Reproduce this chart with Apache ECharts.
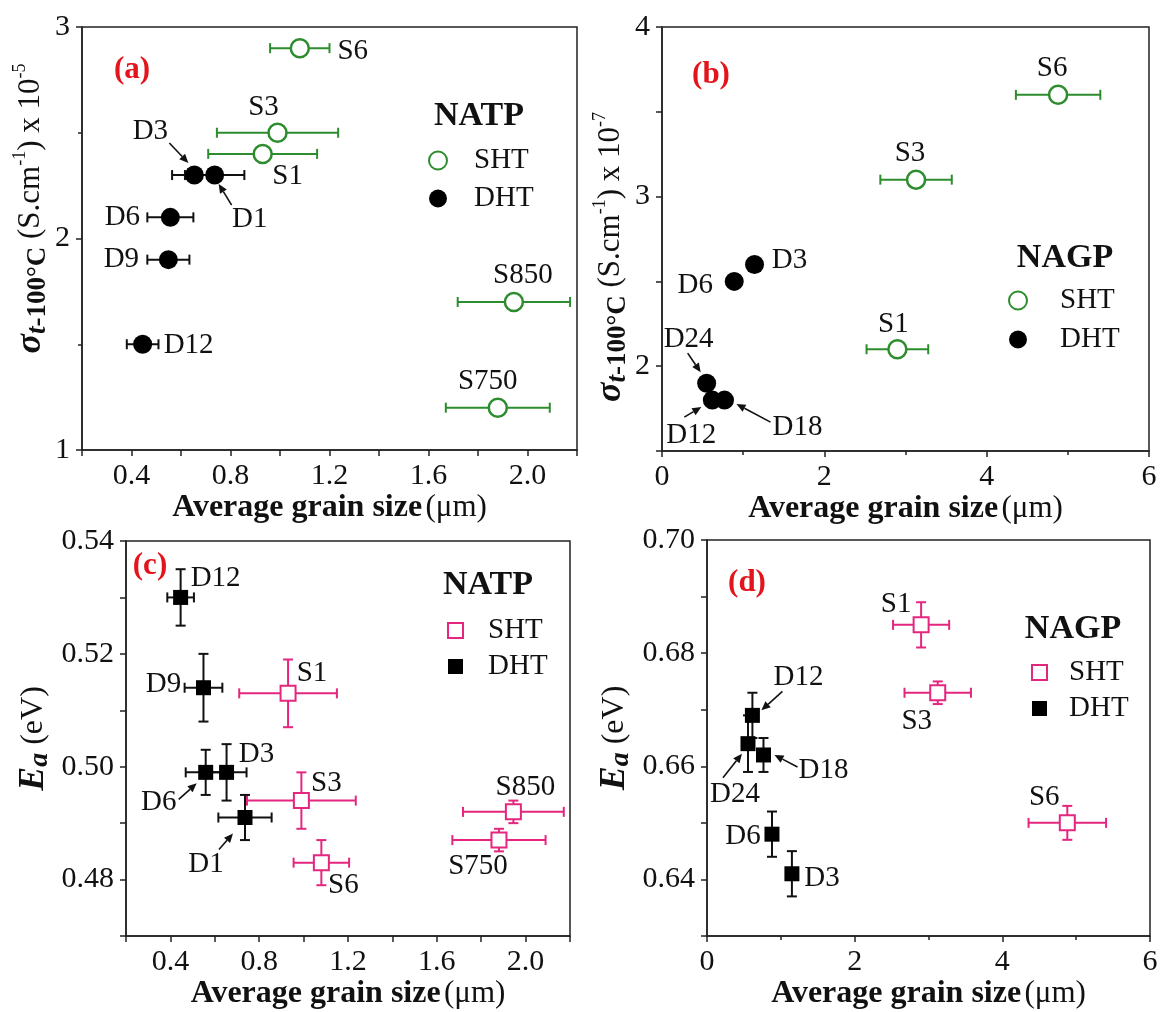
<!DOCTYPE html>
<html>
<head>
<meta charset="utf-8">
<script src="https://cdn.jsdelivr.net/npm/echarts@6/dist/echarts.min.js"></script>
<style>
  html, body { margin: 0; padding: 0; background: #fff; }
  #main { width: 1161px; height: 1012px; }
</style>
</head>
<body>
<div id="main"></div>
<script>
var serif = '"Liberation Serif", "Times New Roman", serif';
var green = '#2d8c2d', pink = '#e4267f', red = '#e3141b', ink = '#111111';

// (a) NATP conductivity at 100 C vs grain size
var aShtNames = ['S1', 'S3', 'S6', 'S750', 'S850'];
var aShtSize = [0.93, 0.99, 1.08, 1.88, 1.945];
var aShtSizeErr = [0.22, 0.245, 0.12, 0.21, 0.227];
var aShtSigma = [2.4, 2.5, 2.9, 1.2, 1.7];
var aDhtNames = ['D1', 'D3', 'D6', 'D9', 'D12'];
var aDhtSize = [0.736, 0.654, 0.557, 0.549, 0.445];
var aDhtSizeErr = [0.12, 0.09, 0.093, 0.085, 0.064];
var aDhtSigma = [2.3, 2.3, 2.1, 1.9, 1.5];

// (b) NAGP conductivity
var bShtNames = ['S1', 'S3', 'S6'];
var bShtSize = [2.9, 3.13, 4.88];
var bShtSizeErr = [0.38, 0.44, 0.52];
var bShtSigma = [2.1, 3.1, 3.6];
var bDhtNames = ['D3', 'D6', 'D12', 'D18', 'D24'];
var bDhtSize = [1.14, 0.89, 0.62, 0.77, 0.55];
var bDhtSigma = [2.6, 2.5, 1.8, 1.8, 1.9];

// (c) NATP activation energy
var cShtNames = ['S1', 'S3', 'S6', 'S750', 'S850'];
var cShtSize = [0.93, 0.99, 1.08, 1.88, 1.945];
var cShtSizeErr = [0.22, 0.245, 0.125, 0.21, 0.227];
var cShtEa = [0.513, 0.494, 0.483, 0.487, 0.492];
var cShtEaErr = [0.006, 0.005, 0.004, 0.002, 0.002];
var cDhtNames = ['D1', 'D3', 'D6', 'D9', 'D12'];
var cDhtSize = [0.736, 0.653, 0.559, 0.549, 0.446];
var cDhtSizeErr = [0.12, 0.09, 0.09, 0.085, 0.06];
var cDhtEa = [0.491, 0.499, 0.499, 0.514, 0.530];
var cDhtEaErr = [0.004, 0.005, 0.004, 0.006, 0.005];

// (d) NAGP activation energy
var dShtNames = ['S1', 'S3', 'S6'];
var dShtSize = [2.9, 3.125, 4.88];
var dShtSizeErr = [0.38, 0.45, 0.525];
var dShtEa = [0.685, 0.673, 0.650];
var dShtEaErr = [0.004, 0.002, 0.003];
var dDhtNames = ['D3', 'D6', 'D12', 'D18', 'D24'];
var dDhtSize = [1.15, 0.88, 0.615, 0.765, 0.555];
var dDhtEa = [0.641, 0.648, 0.669, 0.662, 0.664];
var dDhtEaErr = [0.004, 0.004, 0.004, 0.003, 0.005];

// where the point names sit, px offset from the marker centre
var aPlace = {S1: [25, 22], S3: [-14, -25], S6: [53, 3], S750: [-10, -26], S850: [9, -27],
              D1: [35, 44], D3: [-44, -44], D6: [-48, 0], D9: [-47, 0], D12: [46, 1]};
var aArrows = {D3: [-25, -32, -6, -12], D1: [17, 30, 4, 9]};
var bPlace = {S1: [-4, -25], S3: [-6, -26], S6: [-6, -26],
              D3: [35, -4], D6: [-39, 4], D12: [-21, 35], D18: [73, 27], D24: [-18, -44]};
var bArrows = {D24: [-19, -30, -6, -11], D12: [-28, 17, -11, 7], D18: [46, 22, 12, 4]};
var cPlace = {S1: [24, -20], S3: [25, -17], S6: [22, 23], S750: [-21, 26], S850: [12, -24],
              D1: [-39, 47], D3: [30, -18], D6: [-47, 30], D9: [-40, -3], D12: [35, -19]};
var cArrows = {D6: [-27, 27, -9, 11], D1: [-26, 32, -12, 16]};
var dPlace = {S1: [-25, -20], S3: [-21, 29], S6: [-23, -25],
              D3: [30, 5], D6: [-29, 2], D12: [46, -38], D18: [60, 15], D24: [-13, 51]};
var dArrows = {D12: [30, -24, 9, -5], D24: [-25, 34, -6, 10], D18: [34, 12, 11, 0]};

function rows(xs, ys, exs, eys) {
    return xs.map(function (x, i) {
        return [x, ys[i], exs ? exs[i] : 0, eys ? eys[i] : 0];
    });
}

function errorBars(panel, data, color) {
    return {
        type: 'custom', xAxisIndex: panel, yAxisIndex: panel, z: 2, silent: true,
        data: data, encode: {x: 0, y: 1},
        renderItem: function (params, api) {
            var x = api.value(0), y = api.value(1), ex = api.value(2), ey = api.value(3);
            var c = api.coord([x, y]);
            var kids = [];
            function seg(x1, y1, x2, y2) {
                kids.push({type: 'line', shape: {x1: x1, y1: y1, x2: x2, y2: y2},
                           style: {stroke: color, lineWidth: 2}});
            }
            if (ex) {
                var l = api.coord([x - ex, y])[0], r = api.coord([x + ex, y])[0];
                seg(l, c[1], r, c[1]);
                seg(l, c[1] - 5, l, c[1] + 5);
                seg(r, c[1] - 5, r, c[1] + 5);
            }
            if (ey) {
                var t = api.coord([x, y + ey])[1], b = api.coord([x, y - ey])[1];
                seg(c[0], t, c[0], b);
                seg(c[0] - 5, t, c[0] + 5, t);
                seg(c[0] - 5, b, c[0] + 5, b);
            }
            return {type: 'group', children: kids};
        }
    };
}

function arrow(x0, y0, x1, y1) {
    var dx = x1 - x0, dy = y1 - y0, len = Math.sqrt(dx * dx + dy * dy);
    var ux = dx / len, uy = dy / len, hl = 9, hw = 4;
    var bx = x1 - ux * hl, by = y1 - uy * hl;
    return [
        {type: 'line', shape: {x1: x0, y1: y0, x2: bx, y2: by}, style: {stroke: ink, lineWidth: 1.6}},
        {type: 'polygon', shape: {points: [[x1, y1], [bx - uy * hw, by + ux * hw], [bx + uy * hw, by - ux * hw]]},
         style: {fill: ink}}
    ];
}

function pointLabels(panel, xs, ys, names, place, arrows) {
    return {
        type: 'custom', xAxisIndex: panel, yAxisIndex: panel, z: 5, silent: true,
        data: rows(xs, ys), encode: {x: 0, y: 1},
        renderItem: function (params, api) {
            var c = api.coord([api.value(0), api.value(1)]);
            var name = names[params.dataIndex];
            var off = place[name];
            var kids = [{type: 'text', x: c[0] + off[0], y: c[1] + off[1],
                         style: {text: name, font: '29px ' + serif, fill: ink,
                                 align: 'center', verticalAlign: 'middle'}}];
            var a = arrows[name];
            if (a) kids = kids.concat(arrow(c[0] + a[0], c[1] + a[1], c[0] + a[2], c[1] + a[3]));
            return {type: 'group', children: kids};
        }
    };
}

function markers(panel, name, xs, ys, symbol, size, style) {
    return {
        type: 'scatter', name: name, xAxisIndex: panel, yAxisIndex: panel, z: 3,
        symbol: symbol, symbolSize: size, itemStyle: style, silent: true,
        data: xs.map(function (x, i) { return [x, ys[i]]; })
    };
}

var openCircleG = {color: '#fff', borderColor: green, borderWidth: 2.5, opacity: 1};
var openSquareP = {color: '#fff', borderColor: pink, borderWidth: 2, opacity: 1};
var solid = {color: '#000', opacity: 1};

var axisLine = {lineStyle: {color: '#222', width: 1.5}};
var tickStyle = {show: true, inside: false, length: 6, lineStyle: {color: '#222', width: 1.5}};
var minorStyle = {show: true, splitNumber: 2, length: 4, lineStyle: {color: '#222', width: 1.5}};
var labelBase = {color: ink, fontFamily: serif, fontSize: 30};

var xName = '{b|Average grain size} {n|(\u03bcm)}';
var xNameStyle = {rich: {
    b: {fontFamily: serif, fontSize: 32, fontWeight: 'bold', color: ink},
    n: {fontFamily: serif, fontSize: 31, color: ink}
}};
function sigmaName(exp) {
    return '{s|\u03c3}{t|t}{sub|-100\u00b0C}{n| (S.cm}{sup|-1}{n|) x 10}{sup|' + exp + '}';
}
function sigmaStyle(pad) {
    return {padding: pad, rich: {
        s: {fontFamily: serif, fontSize: 36, fontWeight: 'bold', fontStyle: 'italic', color: ink, lineHeight: 40},
        t: {fontFamily: serif, fontSize: 27, fontWeight: 'bold', fontStyle: 'italic', color: ink, lineHeight: 24, verticalAlign: 'bottom'},
        sub: {fontFamily: serif, fontSize: 27, fontWeight: 'bold', color: ink, lineHeight: 24, verticalAlign: 'bottom'},
        n: {fontFamily: serif, fontSize: 31, color: ink, lineHeight: 40},
        sup: {fontFamily: serif, fontSize: 18, color: ink, lineHeight: 18, verticalAlign: 'top'}
    }};
}
var eaName = '{e|E}{a|a}{n| (eV)}';
var eaStyle = {rich: {
    e: {fontFamily: serif, fontSize: 36, fontWeight: 'bold', fontStyle: 'italic', color: ink, lineHeight: 40},
    a: {fontFamily: serif, fontSize: 28, fontWeight: 'bold', fontStyle: 'italic', color: ink, lineHeight: 24, verticalAlign: 'bottom'},
    n: {fontFamily: serif, fontSize: 32, color: ink, lineHeight: 40}
}};

function fmtStep(step, digits) {
    return function (v) {
        var k = Math.round(v / step * 1000) / 1000;
        return Math.abs(k - Math.round(k)) < 1e-6 ? v.toFixed(digits) : '';
    };
}

function xAxisCfg(grid, min, max, interval, fmt, minor) {
    return {
        type: 'value', gridIndex: grid, min: min, max: max, interval: interval,
        axisLine: axisLine, axisTick: tickStyle, splitLine: {show: false},
        minorTick: minor ? minorStyle : {show: false},
        axisLabel: Object.assign({margin: 11, formatter: fmt}, labelBase),
        name: xName, nameLocation: 'middle', nameGap: 40, nameTextStyle: xNameStyle
    };
}
function yAxisCfg(grid, min, max, interval, fmt, minor, name, nameStyle, gap) {
    return {
        type: 'value', gridIndex: grid, min: min, max: max, interval: interval,
        axisLine: axisLine, axisTick: tickStyle, splitLine: {show: false},
        minorTick: minor ? minorStyle : {show: false},
        axisLabel: Object.assign({margin: 12, formatter: fmt}, labelBase),
        name: name, nameLocation: 'middle', nameGap: gap, nameTextStyle: nameStyle
    };
}

function legendCfg(names, left, top, size, gap, pad) {
    return {
        orient: 'vertical', left: left, top: top, itemWidth: size, itemHeight: size,
        itemGap: gap, selectedMode: false, data: names,
        formatter: function (n) { return n.split('_')[0]; },
        textStyle: {fontFamily: serif, fontSize: 29, lineHeight: 28, color: ink, padding: [0, 0, 0, pad]}
    };
}

function panelText(x, y, text, size, color) {
    return {type: 'text', x: x, y: y, z: 10,
            style: {text: text, font: 'bold ' + size + 'px ' + serif, fill: color,
                    align: 'center', verticalAlign: 'middle'}};
}

var gridBox = {show: true, borderColor: '#222', borderWidth: 1.5, backgroundColor: 'transparent'};

var option = {
    backgroundColor: '#fff',
    animation: false,
    grid: [
        Object.assign({left: 82, top: 27, width: 495, height: 423}, gridBox),
        Object.assign({left: 662, top: 27, width: 487, height: 424}, gridBox),
        Object.assign({left: 126, top: 541, width: 444, height: 395}, gridBox),
        Object.assign({left: 707, top: 540, width: 443, height: 396}, gridBox)
    ],
    xAxis: [
        xAxisCfg(0, 0.2, 2.2, 0.2, fmtStep(0.4, 1), false),
        xAxisCfg(1, 0, 6, 2, fmtStep(2, 0), true),
        xAxisCfg(2, 0.2, 2.2, 0.2, fmtStep(0.4, 1), false),
        xAxisCfg(3, 0, 6, 2, fmtStep(2, 0), true)
    ],
    yAxis: [
        yAxisCfg(0, 1, 3, 1, fmtStep(1, 0), true, sigmaName('-5'), sigmaStyle([0, 0, 0, 60]), 30),
        yAxisCfg(1, 1.5, 4, 0.5, fmtStep(1, 0), false, sigmaName('-7'), sigmaStyle([0, 36, 0, 0]), 30),
        yAxisCfg(2, 0.47, 0.54, 0.01, fmtStep(0.02, 2), false, eaName, eaStyle, 72),
        yAxisCfg(3, 0.63, 0.70, 0.01, fmtStep(0.02, 2), false, eaName, eaStyle, 72)
    ],
    legend: [
        legendCfg(['SHT_a', 'DHT_a'], 423, 141, 18, 9, 22),
        legendCfg(['SHT_b', 'DHT_b'], 1003, 281, 18, 10, 28),
        legendCfg(['SHT_c', 'DHT_c'], 442, 611, 15, 7, 20),
        legendCfg(['SHT_d', 'DHT_d'], 1026, 653, 15, 7, 17)
    ],
    graphic: [
        panelText(132, 70, '(a)', 31, red),
        panelText(711, 75, '(b)', 31, red),
        panelText(150, 566, '(c)', 31, red),
        panelText(747, 583, '(d)', 31, red),
        panelText(479, 116, 'NATP', 34, ink),
        panelText(1065, 258, 'NAGP', 34, ink),
        panelText(488, 585, 'NATP', 34, ink),
        panelText(1073, 629, 'NAGP', 34, ink)
    ],
    series: [
        // (a)
        errorBars(0, rows(aShtSize, aShtSigma, aShtSizeErr), green),
        errorBars(0, rows(aDhtSize, aDhtSigma, aDhtSizeErr), ink),
        markers(0, 'SHT_a', aShtSize, aShtSigma, 'circle', 18, openCircleG),
        markers(0, 'DHT_a', aDhtSize, aDhtSigma, 'circle', 19, solid),
        pointLabels(0, aShtSize, aShtSigma, aShtNames, aPlace, aArrows),
        pointLabels(0, aDhtSize, aDhtSigma, aDhtNames, aPlace, aArrows),
        // (b)
        errorBars(1, rows(bShtSize, bShtSigma, bShtSizeErr), green),
        markers(1, 'SHT_b', bShtSize, bShtSigma, 'circle', 18, openCircleG),
        markers(1, 'DHT_b', bDhtSize, bDhtSigma, 'circle', 19, solid),
        pointLabels(1, bShtSize, bShtSigma, bShtNames, bPlace, bArrows),
        pointLabels(1, bDhtSize, bDhtSigma, bDhtNames, bPlace, bArrows),
        // (c)
        errorBars(2, rows(cShtSize, cShtEa, cShtSizeErr, cShtEaErr), pink),
        errorBars(2, rows(cDhtSize, cDhtEa, cDhtSizeErr, cDhtEaErr), ink),
        markers(2, 'SHT_c', cShtSize, cShtEa, 'rect', 15, openSquareP),
        markers(2, 'DHT_c', cDhtSize, cDhtEa, 'rect', 15, solid),
        pointLabels(2, cShtSize, cShtEa, cShtNames, cPlace, cArrows),
        pointLabels(2, cDhtSize, cDhtEa, cDhtNames, cPlace, cArrows),
        // (d)
        errorBars(3, rows(dShtSize, dShtEa, dShtSizeErr, dShtEaErr), pink),
        errorBars(3, rows(dDhtSize, dDhtEa, null, dDhtEaErr), ink),
        markers(3, 'SHT_d', dShtSize, dShtEa, 'rect', 15, openSquareP),
        markers(3, 'DHT_d', dDhtSize, dDhtEa, 'rect', 15, solid),
        pointLabels(3, dShtSize, dShtEa, dShtNames, dPlace, dArrows),
        pointLabels(3, dDhtSize, dDhtEa, dDhtNames, dPlace, dArrows)
    ]
};

var chart = echarts.init(document.getElementById('main'));
chart.setOption(option);
</script>
</body>
</html>
